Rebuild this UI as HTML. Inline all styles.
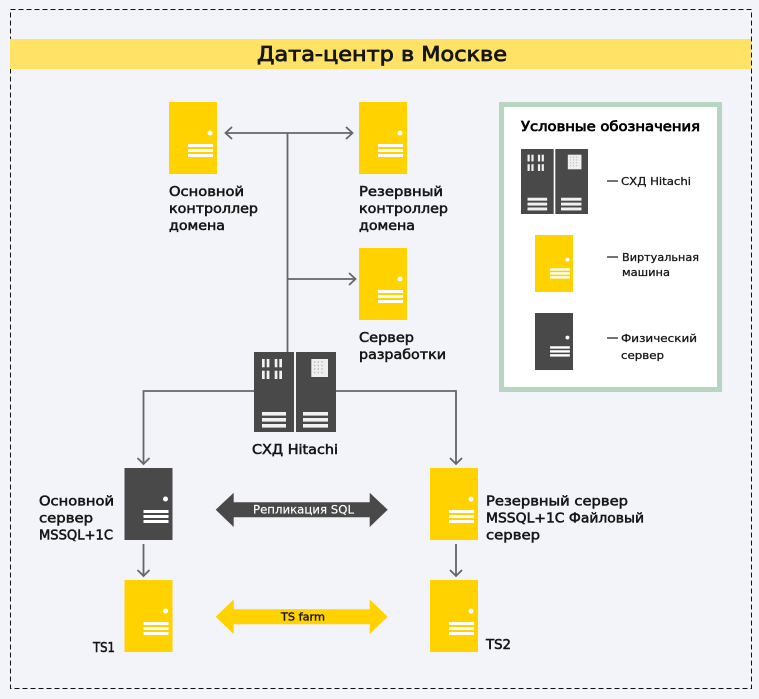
<!DOCTYPE html>
<html><head><meta charset="utf-8"><style>
html,body{margin:0;padding:0;background:#f3f3fa}
svg{display:block}
text{font-family:"DejaVu Sans","Liberation Sans",sans-serif;fill:#161616;stroke:#161616;stroke-width:.55}
.n{font-size:13.5px}
.l{font-size:11px;stroke-width:.3}
</style></head><body>
<svg width="759" height="699" viewBox="0 0 759 699" xmlns="http://www.w3.org/2000/svg">
<defs>
<g id="srv">
<rect width="48" height="72" fill="currentColor"/>
<circle cx="41" cy="31" r="2.500" fill="#fff"/>
<rect x="19" y="42" width="25" height="3" fill="#fff"/>
<rect x="19" y="47" width="25" height="3" fill="#fff"/>
<rect x="19" y="52" width="25" height="3" fill="#fff"/>
</g>
<g id="sto">
<rect x="0" y="0" width="40" height="80" fill="#494949"/>
<rect x="42" y="0" width="40" height="80" fill="#494949"/>
<g fill="#f1f1f1">
<rect x="8" y="7" width="2.7" height="8.3"/><rect x="12.7" y="7" width="2.7" height="8.3"/><rect x="20.7" y="7" width="2.7" height="8.3"/><rect x="25.3" y="7" width="2.7" height="8.3"/>
<rect x="8" y="18.7" width="2.7" height="8.3"/><rect x="12.7" y="18.7" width="2.7" height="8.3"/><rect x="20.7" y="18.7" width="2.7" height="8.3"/><rect x="25.3" y="18.7" width="2.7" height="8.3"/>
<rect x="8" y="60" width="24" height="3.6"/><rect x="8" y="66" width="24" height="3.6"/><rect x="8" y="72" width="24" height="3.6"/>
<rect x="49" y="60" width="25" height="3.6"/><rect x="49" y="66" width="25" height="3.6"/><rect x="49" y="72" width="25" height="3.6"/>
<rect x="57.3" y="7" width="16.7" height="18" fill="#efefef"/>
</g>
<path d="M60 10h11M60 13.5h11M60 17h11M60 20.500h11" stroke="#bbb" stroke-width="1.4" stroke-dasharray="1.4 2.2" fill="none"/>
</g>
</defs>
<rect width="759" height="699" fill="#f3f3fa"/>
<rect x="10.500" y="9.500" width="741" height="679" fill="none" stroke="#111" stroke-width="1" stroke-dasharray="5 3"/>
<rect x="10" y="39" width="741" height="30" fill="#ffe266"/>
<text x="257" y="61" font-size="20" textLength="250" lengthAdjust="spacingAndGlyphs" style="stroke-width:.8">Дата-центр в Москве</text>

<g fill="none" stroke="#666" stroke-width="1.800">
<path d="M225 133H352M287.500 133V352M287.500 279H355"/>
<path d="M232 127L225.500 133L232 139M346 127L352.500 133L346 139M349 273L355.500 279L349 285"/>
<path d="M254 391H143.500V464M336 391H456V464"/>
<path d="M137.500 458L143.500 464L149.500 458M450 458L456 464L462 458"/>
<path d="M143.500 544V576M137.500 570L143.500 576L149.500 570M456 544V576M450 570L456 576L462 570"/>
</g>

<g style="color:#ffd200">
<use href="#srv" x="169" y="102"/><use href="#srv" x="359" y="102"/><use href="#srv" x="359" y="248"/>
<use href="#srv" x="430" y="468"/><use href="#srv" x="124.500" y="580"/><use href="#srv" x="430" y="580"/>
</g>
<use href="#srv" x="124.500" y="468" style="color:#494949"/>
<use href="#sto" x="254" y="352"/>

<path d="M215.700 509.700L233.700 492.700V502.300H369.700V492.700L387.700 509.700L369.700 527V517.300H233.700V527Z" fill="#494949"/>
<path d="M215.700 616.700L233.700 599.500V609.200H369.700V599.500L387.700 616.700L369.700 634V624.200H233.700V634Z" fill="#ffd200"/>

<text class="n" x="169" y="196" textLength="75" lengthAdjust="spacingAndGlyphs">Основной</text>
<text class="n" x="169" y="213" textLength="89" lengthAdjust="spacingAndGlyphs">контроллер</text>
<text class="n" x="169" y="230" textLength="56" lengthAdjust="spacingAndGlyphs">домена</text>
<text class="n" x="359" y="196" textLength="84" lengthAdjust="spacingAndGlyphs">Резервный</text>
<text class="n" x="359" y="213" textLength="89" lengthAdjust="spacingAndGlyphs">контроллер</text>
<text class="n" x="359" y="230" textLength="56" lengthAdjust="spacingAndGlyphs">домена</text>
<text class="n" x="359" y="342" textLength="55" lengthAdjust="spacingAndGlyphs">Сервер</text>
<text class="n" x="359" y="359" textLength="87" lengthAdjust="spacingAndGlyphs">разработки</text>
<text class="n" x="252" y="454" textLength="86" lengthAdjust="spacingAndGlyphs">СХД Hitachi</text>
<text class="n" x="39" y="505.500" textLength="75" lengthAdjust="spacingAndGlyphs">Основной</text>
<text class="n" x="39" y="522.500" textLength="54" lengthAdjust="spacingAndGlyphs">сервер</text>
<text class="n" x="39" y="539.500" textLength="74" lengthAdjust="spacingAndGlyphs">MSSQL+1C</text>
<text class="n" x="93" y="652" textLength="22" lengthAdjust="spacingAndGlyphs">TS1</text>
<text class="n" x="486" y="505.500" textLength="142" lengthAdjust="spacingAndGlyphs">Резервный сервер</text>
<text class="n" x="486" y="522.500" textLength="158" lengthAdjust="spacingAndGlyphs">MSSQL+1C Файловый</text>
<text class="n" x="486" y="539.500" textLength="54" lengthAdjust="spacingAndGlyphs">сервер</text>
<text class="n" x="486" y="649" textLength="25" lengthAdjust="spacingAndGlyphs">TS2</text>
<text x="253" y="513.500" font-size="11.500" textLength="101" lengthAdjust="spacingAndGlyphs" style="fill:#fff;stroke:#fff;stroke-width:.15">Репликация SQL</text>
<text x="281" y="620.500" font-size="11" textLength="44" lengthAdjust="spacingAndGlyphs" style="stroke-width:.4">TS farm</text>

<rect x="501.500" y="104.500" width="218" height="285" fill="#fff" stroke="#b7d6c2" stroke-width="5"/>
<text x="521" y="131" font-size="13" textLength="179" lengthAdjust="spacingAndGlyphs" style="stroke-width:.7;fill:#000;stroke:#000">Условные обозначения</text>
<g transform="translate(521 149) scale(.817 .8125)"><use href="#sto"/></g>
<g transform="translate(535 235) scale(.792)" style="color:#ffd200"><use href="#srv"/></g>
<g transform="translate(535 313) scale(.792)" style="color:#494949"><use href="#srv"/></g>
<path d="M607 181H618M607 257H618M607 338H618" stroke="#222" stroke-width="1.200"/>
<text class="l" x="621" y="185" textLength="70" lengthAdjust="spacingAndGlyphs">СХД Hitachi</text>
<text class="l" x="622" y="261" textLength="77" lengthAdjust="spacingAndGlyphs">Виртуальная</text>
<text class="l" x="622" y="276" textLength="48" lengthAdjust="spacingAndGlyphs">машина</text>
<text class="l" x="621" y="342" textLength="76" lengthAdjust="spacingAndGlyphs">Физический</text>
<text class="l" x="621" y="359" textLength="43" lengthAdjust="spacingAndGlyphs">сервер</text>
</svg>
</body></html>
